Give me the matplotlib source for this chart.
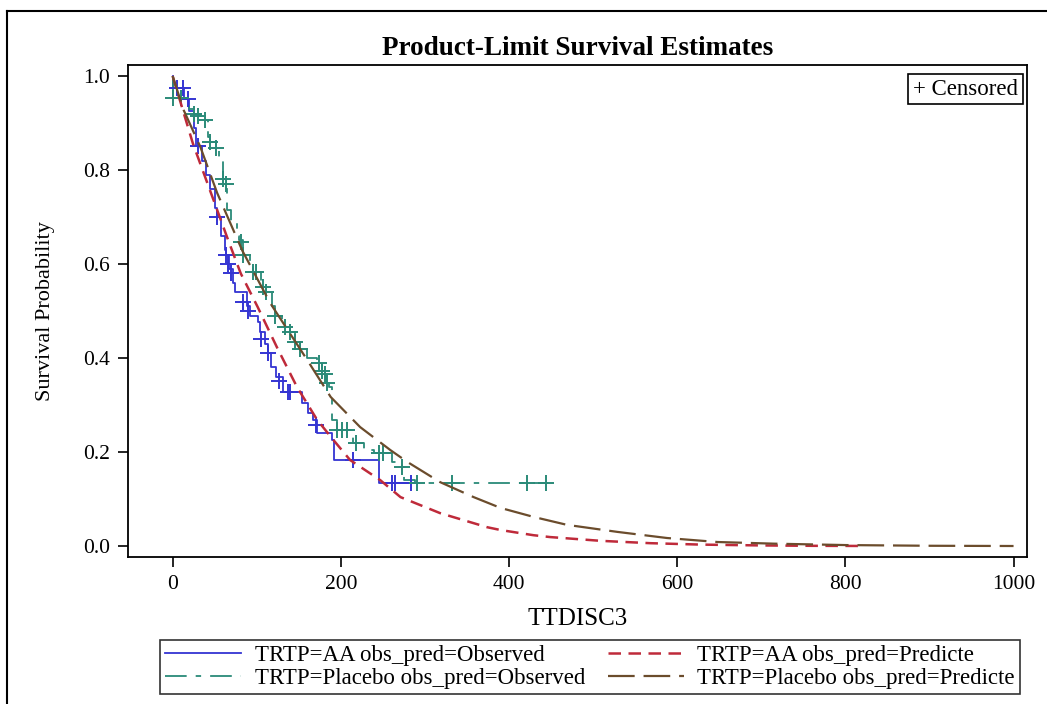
import numpy as np
import matplotlib
matplotlib.use('Agg')
import matplotlib.pyplot as plt
from matplotlib.lines import Line2D

plt.rcParams['font.family'] = ['Liberation Serif', 'DejaVu Serif']

# --- AA observed (Kaplan-Meier steps) ---
aa_obs_t = [0, 1, 14, 20, 25, 28, 35, 40, 45, 50, 53, 58, 62, 64, 67, 72, 74, 88, 92,
            101, 104, 110, 113, 117, 123, 131, 154, 161, 167, 172, 190, 192, 245, 283]
aa_obs_s = [1.0, 0.975, 0.95, 0.925, 0.89, 0.85, 0.82, 0.79, 0.76, 0.72, 0.70, 0.66, 0.63,
            0.62, 0.59, 0.56, 0.54, 0.51, 0.49, 0.477, 0.455, 0.43, 0.41, 0.38, 0.36, 0.328,
            0.304, 0.283, 0.268, 0.24, 0.226, 0.183, 0.134, 0.134]
aa_cens_t = [5, 12, 18, 30, 53, 63, 66, 70, 84, 90, 105, 113, 126, 137, 140, 170, 215, 261, 264, 283]
aa_cens_s = [0.975, 0.975, 0.95, 0.85, 0.70, 0.62, 0.60, 0.58, 0.52, 0.50, 0.44, 0.41, 0.35,
             0.328, 0.328, 0.257, 0.183, 0.134, 0.134, 0.134]

# --- Placebo observed ---
pl_obs_t = [0, 1, 20, 25, 38, 42, 45, 51, 55, 60, 63, 65, 69, 76, 79, 84, 92, 95, 105, 108,
            111, 118, 122, 130, 134, 140, 146, 152, 160, 172, 178, 182, 186, 190, 196, 215,
            228, 240, 261, 273, 275, 288, 446]
pl_obs_s = [1.0, 0.953, 0.93, 0.92, 0.906, 0.87, 0.86, 0.847, 0.82, 0.78, 0.77, 0.715, 0.69,
            0.66, 0.65, 0.62, 0.60, 0.583, 0.56, 0.55, 0.54, 0.51, 0.49, 0.475, 0.465, 0.455,
            0.434, 0.42, 0.40, 0.39, 0.372, 0.347, 0.338, 0.268, 0.247, 0.22, 0.204, 0.198,
            0.179, 0.168, 0.14, 0.134, 0.134]
pl_cens_t = [0, 10, 25, 30, 38, 45, 51, 60, 63, 81, 84, 95, 99, 107, 111, 122, 134, 140, 146,
             152, 174, 178, 181, 184, 196, 202, 207, 218, 245, 250, 273, 291, 332, 422, 444]
pl_cens_s = [0.953, 0.953, 0.92, 0.915, 0.906, 0.86, 0.847, 0.78, 0.77, 0.647, 0.62, 0.583,
             0.583, 0.55, 0.54, 0.49, 0.465, 0.455, 0.434, 0.42, 0.39, 0.372, 0.365, 0.347,
             0.247, 0.247, 0.247, 0.22, 0.198, 0.198, 0.168, 0.134, 0.134, 0.134, 0.134]

# --- predicted curves ---
aa_pred_t = [0, 24, 66, 81, 101, 124, 148, 172, 191, 211, 247, 271, 318, 374, 390, 429,
             449, 509, 568, 628, 700, 760, 820]
aa_pred_s = [1.0, 0.857, 0.651, 0.58, 0.509, 0.423, 0.338, 0.268, 0.226, 0.183, 0.14, 0.104,
             0.07, 0.04, 0.034, 0.023, 0.019, 0.011, 0.006, 0.003, 0.0012, 0.0004, 0.0001]
pl_pred_t = [0, 13, 33, 53, 83, 116, 160, 188, 223, 259, 279, 318, 358, 390, 429, 469, 529,
             588, 648, 715, 800, 900, 1000]
pl_pred_s = [1.0, 0.928, 0.849, 0.751, 0.628, 0.517, 0.396, 0.317, 0.253, 0.204, 0.179,
             0.136, 0.104, 0.081, 0.062, 0.045, 0.03, 0.017, 0.0085, 0.005, 0.002, 0.0005, 0.0]

blue = '#3434d2'
teal = '#2a8a78'
red = '#bf2a3a'
brown = '#6b4c2c'

fig = plt.figure(figsize=(10.47, 7.04), dpi=100)
ax = fig.add_axes([0.1223, 0.2088, 0.8586, 0.6989])

# outer frame (top + left visible)
fig.add_artist(Line2D([7/1047, 7/1047], [0, 1 - 11/704], transform=fig.transFigure,
                      color='black', lw=1.5))
fig.add_artist(Line2D([7/1047, 1], [1 - 11/704, 1 - 11/704], transform=fig.transFigure,
                      color='black', lw=1.5))

l1, = ax.step(aa_obs_t, aa_obs_s, where='post', color=blue, lw=1.3)
l3, = ax.step(pl_obs_t, pl_obs_s, where='post', color=teal, lw=1.3,
              dashes=(12, 5, 3, 5))
ax.plot(aa_cens_t, aa_cens_s, '+', color=blue, ms=11, mew=1.4, ls='none')
ax.plot(pl_cens_t, pl_cens_s, '+', color=teal, ms=11, mew=1.4, ls='none')
l2, = ax.plot(aa_pred_t, aa_pred_s, color=red, lw=1.8, dashes=(5, 3))
l4, = ax.plot(pl_pred_t, pl_pred_s, color=brown, lw=1.6, dashes=(12, 4))

ax.set_xlim(-53, 1016)
ax.set_ylim(-0.0234, 1.0234)
ax.set_xticks([0, 200, 400, 600, 800, 1000])
ax.set_yticks([0.0, 0.2, 0.4, 0.6, 0.8, 1.0])
ax.set_yticklabels(['0.0', '0.2', '0.4', '0.6', '0.8', '1.0'])
ax.tick_params(direction='out', length=7, width=1.2, labelsize=15.5, pad=6)
for s in ax.spines.values():
    s.set_linewidth(1.3)

ax.set_xlabel('TTDISC3', fontsize=18, labelpad=10)
ax.set_ylabel('Survival Probability', fontsize=16, labelpad=20)
ax.set_title('Product-Limit Survival Estimates', fontsize=19.5, fontweight='bold', pad=7)

ax.text(0.990, 0.972, '+ Censored', transform=ax.transAxes, ha='right', va='top',
        fontsize=16.5, bbox=dict(boxstyle='square,pad=0.2', fc='white', ec='black', lw=1.2))

leg = fig.legend([l1, l3, l2, l4],
                 ['TRTP=AA obs_pred=Observed', 'TRTP=Placebo obs_pred=Observed',
                  'TRTP=AA obs_pred=Predicte', 'TRTP=Placebo obs_pred=Predicte'],
                 ncol=2, loc='upper center', bbox_to_anchor=(0.5635, 0.0909),
                 borderaxespad=0, fontsize=16.5, frameon=True, fancybox=False,
                 edgecolor='black', handlelength=3.3, columnspacing=1.0,
                 labelspacing=0.08, borderpad=0.22, handletextpad=0.6)
leg.get_frame().set_linewidth(1.2)

fig.savefig('out.png', dpi=100)
